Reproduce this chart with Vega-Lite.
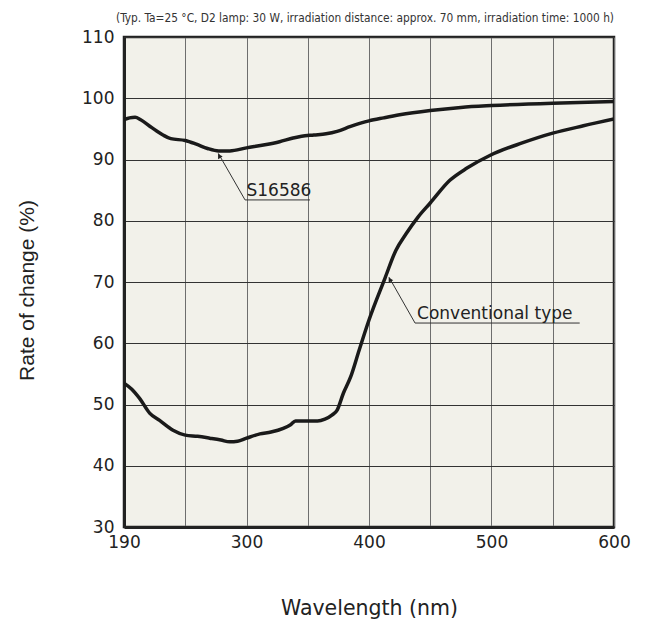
{
  "$schema": "https://vega.github.io/schema/vega-lite/v6.json",
  "width": 490,
  "height": 490,
  "autosize": {"type": "none"},
  "padding": {"left": 124, "top": 37, "right": 32, "bottom": 99},
  "background": "white",
  "title": {
    "text": "(Typ. Ta=25 °C, D2 lamp: 30 W, irradiation distance: approx. 70 mm, irradiation time: 1000 h)",
    "anchor": "end",
    "frame": "group",
    "font": "DejaVu Sans Condensed, Liberation Sans",
    "fontSize": 11.8,
    "fontWeight": "normal",
    "color": "#333333",
    "offset": 3
  },
  "config": {
    "view": {"fill": "#f2f1ea", "stroke": "#222222", "strokeWidth": 2.5}
  },
  "datasets": {
    "curves": [
      {"series": "S16586", "wl": 190, "val": 96.5},
      {"series": "S16586", "wl": 195, "val": 96.8},
      {"series": "S16586", "wl": 200, "val": 96.9},
      {"series": "S16586", "wl": 205, "val": 96.5},
      {"series": "S16586", "wl": 215, "val": 95.2},
      {"series": "S16586", "wl": 225, "val": 94.0},
      {"series": "S16586", "wl": 232, "val": 93.4},
      {"series": "S16586", "wl": 245, "val": 93.1},
      {"series": "S16586", "wl": 255, "val": 92.5},
      {"series": "S16586", "wl": 265, "val": 91.8},
      {"series": "S16586", "wl": 275, "val": 91.4},
      {"series": "S16586", "wl": 285, "val": 91.4},
      {"series": "S16586", "wl": 300, "val": 91.9},
      {"series": "S16586", "wl": 315, "val": 92.4},
      {"series": "S16586", "wl": 327, "val": 92.9},
      {"series": "S16586", "wl": 338, "val": 93.5},
      {"series": "S16586", "wl": 345, "val": 93.8},
      {"series": "S16586", "wl": 355, "val": 94.0},
      {"series": "S16586", "wl": 365, "val": 94.2},
      {"series": "S16586", "wl": 374, "val": 94.6},
      {"series": "S16586", "wl": 385, "val": 95.4},
      {"series": "S16586", "wl": 400, "val": 96.3},
      {"series": "S16586", "wl": 412, "val": 96.8},
      {"series": "S16586", "wl": 425, "val": 97.3},
      {"series": "S16586", "wl": 450, "val": 98.0},
      {"series": "S16586", "wl": 475, "val": 98.5},
      {"series": "S16586", "wl": 500, "val": 98.8},
      {"series": "S16586", "wl": 550, "val": 99.2},
      {"series": "S16586", "wl": 600, "val": 99.45},
      {"series": "Conventional", "wl": 190, "val": 53.5},
      {"series": "Conventional", "wl": 197, "val": 52.5},
      {"series": "Conventional", "wl": 204, "val": 51.0},
      {"series": "Conventional", "wl": 213, "val": 48.6},
      {"series": "Conventional", "wl": 222, "val": 47.4},
      {"series": "Conventional", "wl": 234, "val": 45.8},
      {"series": "Conventional", "wl": 245, "val": 45.0},
      {"series": "Conventional", "wl": 256, "val": 44.8},
      {"series": "Conventional", "wl": 267, "val": 44.5},
      {"series": "Conventional", "wl": 277, "val": 44.2},
      {"series": "Conventional", "wl": 285, "val": 43.9},
      {"series": "Conventional", "wl": 292, "val": 44.0},
      {"series": "Conventional", "wl": 300, "val": 44.5},
      {"series": "Conventional", "wl": 311, "val": 45.2},
      {"series": "Conventional", "wl": 320, "val": 45.5},
      {"series": "Conventional", "wl": 330, "val": 46.1},
      {"series": "Conventional", "wl": 336, "val": 46.7},
      {"series": "Conventional", "wl": 340, "val": 47.3},
      {"series": "Conventional", "wl": 350, "val": 47.3},
      {"series": "Conventional", "wl": 358, "val": 47.3},
      {"series": "Conventional", "wl": 364, "val": 47.6},
      {"series": "Conventional", "wl": 370, "val": 48.3},
      {"series": "Conventional", "wl": 374, "val": 49.1},
      {"series": "Conventional", "wl": 379, "val": 51.8},
      {"series": "Conventional", "wl": 385, "val": 54.5},
      {"series": "Conventional", "wl": 392, "val": 58.9},
      {"series": "Conventional", "wl": 400, "val": 63.8},
      {"series": "Conventional", "wl": 413, "val": 70.6},
      {"series": "Conventional", "wl": 422, "val": 75.2},
      {"series": "Conventional", "wl": 430, "val": 77.8},
      {"series": "Conventional", "wl": 440, "val": 80.6},
      {"series": "Conventional", "wl": 450, "val": 82.9},
      {"series": "Conventional", "wl": 466, "val": 86.6},
      {"series": "Conventional", "wl": 480, "val": 88.6},
      {"series": "Conventional", "wl": 499, "val": 90.7},
      {"series": "Conventional", "wl": 525, "val": 92.7},
      {"series": "Conventional", "wl": 550, "val": 94.3},
      {"series": "Conventional", "wl": 575, "val": 95.5},
      {"series": "Conventional", "wl": 600, "val": 96.6}
    ],
    "leaders": [
      {"grp": "a", "ord": 1, "wl": 274.7, "val": 91.0},
      {"grp": "a", "ord": 2, "wl": 298.7, "val": 83.4},
      {"grp": "a", "ord": 3, "wl": 351.8, "val": 83.4},
      {"grp": "b", "ord": 1, "wl": 416.3, "val": 70.8},
      {"grp": "b", "ord": 2, "wl": 437.6, "val": 63.3},
      {"grp": "b", "ord": 3, "wl": 572, "val": 63.3}
    ],
    "arrows": [
      {"wl": 275.5, "val": 90.6},
      {"wl": 417.0, "val": 70.4}
    ],
    "labels": [
      {"wl": 300, "val": 83.4, "label": "S16586"},
      {"wl": 439.2, "val": 63.3, "label": "Conventional type"}
    ]
  },
  "encoding": {
    "x": {
      "field": "wl",
      "type": "quantitative",
      "scale": {"domain": [190, 300, 600], "range": [0, 122.5, 490], "nice": false, "zero": false},
      "axis": {
        "values": [190, 245, 300, 350, 400, 450, 500, 550, 600],
        "labelExpr": "(datum.value == 245 || datum.value == 350 || datum.value == 450 || datum.value == 550) ? '' : datum.label",
        "grid": true,
        "gridColor": "#6e6e6e",
        "gridWidth": 1,
        "gridOpacity": 1,
        "ticks": false,
        "domain": true,
        "domainColor": "#222222",
        "domainWidth": 3,
        "labelFont": "DejaVu Sans",
        "labelFontSize": 17,
        "labelColor": "#222222",
        "labelPadding": 7,
        "labelFlush": false,
        "labelOverlap": false,
        "title": "Wavelength (nm)",
        "titleFont": "DejaVu Sans",
        "titleFontSize": 20.5,
        "titleFontWeight": "normal",
        "titleColor": "#222222",
        "titleX": 245,
        "titleY": 81,
        "titleAlign": "center",
        "titleBaseline": "middle"
      }
    },
    "y": {
      "field": "val",
      "type": "quantitative",
      "scale": {"domain": [30, 110], "nice": false, "zero": false},
      "axis": {
        "values": [30, 40, 50, 60, 70, 80, 90, 100, 110],
        "grid": true,
        "gridColor": "#333333",
        "gridWidth": 1,
        "gridOpacity": 1,
        "ticks": false,
        "domain": true,
        "domainColor": "#222222",
        "domainWidth": 3,
        "labelFont": "DejaVu Sans",
        "labelFontSize": 17,
        "labelColor": "#222222",
        "labelPadding": 10,
        "labelOverlap": false,
        "title": "Rate of change (%)",
        "titleFont": "Liberation Sans",
        "titleFontSize": 21,
        "titleFontWeight": "normal",
        "titleColor": "#222222",
        "titleX": -97,
        "titleY": 253,
        "titleAngle": -90,
        "titleAlign": "center",
        "titleBaseline": "middle"
      }
    }
  },
  "layer": [
    {
      "data": {"name": "curves"},
      "mark": {"type": "line", "interpolate": "monotone", "color": "#1a1a1a", "strokeWidth": 3.5, "clip": true},
      "encoding": {"detail": {"field": "series"}}
    },
    {
      "data": {"name": "leaders"},
      "mark": {"type": "line", "color": "#333333", "strokeWidth": 1},
      "encoding": {"detail": {"field": "grp"}, "order": {"field": "ord"}}
    },
    {
      "data": {"name": "arrows"},
      "mark": {"type": "point", "shape": "triangle-up", "filled": true, "size": 28, "angle": 330, "color": "#222222", "opacity": 1}
    },
    {
      "data": {"name": "labels"},
      "mark": {"type": "text", "align": "left", "baseline": "alphabetic", "dy": -4, "font": "DejaVu Sans", "fontSize": 17, "color": "#222222"},
      "encoding": {"text": {"field": "label"}}
    }
  ]
}
